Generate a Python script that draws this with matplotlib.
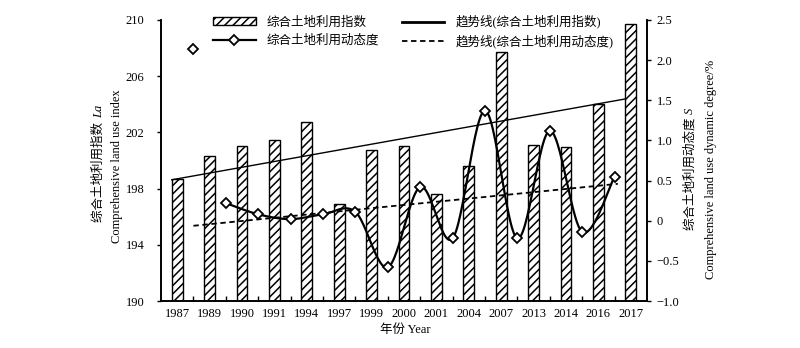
import numpy as np
import matplotlib
matplotlib.use("Agg")
import matplotlib.pyplot as plt
from matplotlib.lines import Line2D
from matplotlib.patches import Patch

plt.rcParams['font.family'] = ['Liberation Serif', 'Noto Sans CJK SC']
plt.rcParams['font.size'] = 9
plt.rcParams['hatch.linewidth'] = 1.1
plt.rcParams['axes.unicode_minus'] = True

# data
years = ['1987', '1989', '1990', '1991', '1994', '1997', '1999', '2000',
         '2001', '2004', '2007', '2013', '2014', '2016', '2017']
land_index = [198.7, 200.3, 201.0, 201.45, 202.75, 196.9, 200.75, 201.0,
              197.6, 199.6, 207.75, 201.1, 200.95, 204.05, 209.7]
# dynamic degree, one value per interval between two survey years
dynamic_degree = [2.14, 0.22, 0.08, 0.02, 0.08, 0.11, -0.58, 0.42,
                  -0.22, 1.37, -0.22, 1.12, -0.14, 0.55]
left_ticks = [190, 194, 198, 202, 206, 210]
right_ticks = [-1.0, -0.5, 0, 0.5, 1.0, 1.5, 2.0, 2.5]
right_tick_labels = ['\u22121.0', '\u22120.5', '0', '0.5', '1.0', '1.5', '2.0', '2.5']


def smooth_curve(xs, ys, n=30):
    # excel-like smoothed line (catmull-rom bezier)
    xs = np.asarray(xs, float)
    ys = np.asarray(ys, float)
    px = np.concatenate([[xs[0]], xs, [xs[-1]]])
    py = np.concatenate([[ys[0]], ys, [ys[-1]]])
    out_x, out_y = [], []
    t = np.linspace(0, 1, n)
    for i in range(1, len(px) - 2):
        p0 = np.array([px[i], py[i]])
        p3 = np.array([px[i + 1], py[i + 1]])
        c1 = p0 + (p3 - np.array([px[i - 1], py[i - 1]])) / 6
        c2 = p3 - (np.array([px[i + 2], py[i + 2]]) - p0) / 6
        b = ((1 - t) ** 3)[:, None] * p0 + (3 * (1 - t) ** 2 * t)[:, None] * c1 \
            + (3 * (1 - t) * t ** 2)[:, None] * c2 + (t ** 3)[:, None] * p3
        out_x.extend(b[:, 0])
        out_y.extend(b[:, 1])
    return np.array(out_x), np.array(out_y)


fig = plt.figure(figsize=(8, 3.48), dpi=100)
ax = fig.add_axes([161 / 800, 1 - 301 / 348, 486 / 800, 281 / 348])
ax2 = ax.twinx()

x = np.arange(len(years))
xd = np.arange(len(dynamic_degree)) + 0.5

# bars
ax.bar(x, land_index, width=0.33, color='white', edgecolor='black',
       hatch='////', linewidth=1.0, zorder=2)

# linear trend of the index
k, b = np.polyfit(x, land_index, 1)
tx = np.array([-0.17, x[-1] - 0.17])
ax.plot(tx, k * tx + b, color='black', lw=1.0, zorder=3)

# dynamic degree curve + markers
cx, cy = smooth_curve(xd[1:], dynamic_degree[1:])
ax2.plot(cx, cy, color='black', lw=1.6, zorder=4)
ax2.plot(xd, dynamic_degree, ls='none', marker='D', ms=5.5, mfc='white',
         mec='black', mew=1.3, zorder=5)

# linear trend of the dynamic degree
k2, b2 = np.polyfit(xd[1:], dynamic_degree[1:], 1)
tx2 = np.array([xd[0], xd[-1] + 0.1])
ax2.plot(tx2, k2 * tx2 + b2, color='black', lw=1.3, ls=(0, (3, 2)), zorder=3)

ax.set_xlim(-0.5, len(years) - 0.5)
ax.set_ylim(190, 210)
ax2.set_ylim(-1.0, 2.5)
ax.set_yticks(left_ticks)
ax2.set_yticks(right_ticks)
ax2.set_yticklabels(right_tick_labels)
ax.set_xticks(x)
ax.set_xticklabels(years)
ax.set_xticks(np.arange(len(years) - 1) + 0.5, minor=True)
ax.tick_params(axis='x', which='major', length=0, pad=5)
ax.tick_params(axis='x', which='minor', direction='in', length=3.5, width=1)
ax.tick_params(axis='y', direction='out', length=3, width=1, pad=9)
ax2.tick_params(axis='y', direction='out', length=3, width=1, pad=4)

for a in (ax, ax2):
    a.spines['top'].set_visible(False)
    for s in ('left', 'right', 'bottom'):
        a.spines[s].set_linewidth(1.2)

# axis titles
t1 = fig.text(99 / 800, 1 - 170 / 348, '综合土地利用指数 ', rotation=90,
              ha='center', va='center')
ax.annotate('La', xy=(0.5, 1.0), xycoords=t1, rotation=90, ha='center',
            va='bottom', style='italic', annotation_clip=False)
fig.text(117 / 800, 1 - 166 / 348, 'Comprehensive land use index', rotation=90,
         ha='center', va='center')
t2 = fig.text(690 / 800, 1 - 172 / 348, '综合土地利用动态度 ', rotation=90,
              ha='center', va='center')
ax.annotate('S', xy=(0.5, 1.0), xycoords=t2, rotation=90, ha='center',
            va='bottom', style='italic', annotation_clip=False)
fig.text(711 / 800, 1 - 169 / 348, 'Comprehensive land use dynamic degree/%',
         rotation=90, ha='center', va='center')
fig.text(405 / 800, 1 - 330 / 348, '年份 Year', ha='center', va='center')

# legend
handles = [
    Patch(facecolor='white', edgecolor='black', hatch='////', linewidth=1.0),
    Line2D([], [], color='black', lw=1.6, marker='D', ms=5.5, mfc='white',
           mec='black', mew=1.3),
    Line2D([], [], color='black', lw=2.0),
    Line2D([], [], color='black', lw=1.3, ls=(0, (3, 2))),
]
labels = ['综合土地利用指数', '综合土地利用动态度',
          '趋势线(综合土地利用指数)', '趋势线(综合土地利用动态度)']
fig.legend(handles, labels, ncol=2, loc='upper left',
           bbox_to_anchor=(213 / 800, 1 - 15 / 348), frameon=False,
           handlelength=3.4, handleheight=0.6, handletextpad=0.9,
           columnspacing=1.8, labelspacing=0.45, borderpad=0, borderaxespad=0)

fig.savefig('out.png', dpi=100)
